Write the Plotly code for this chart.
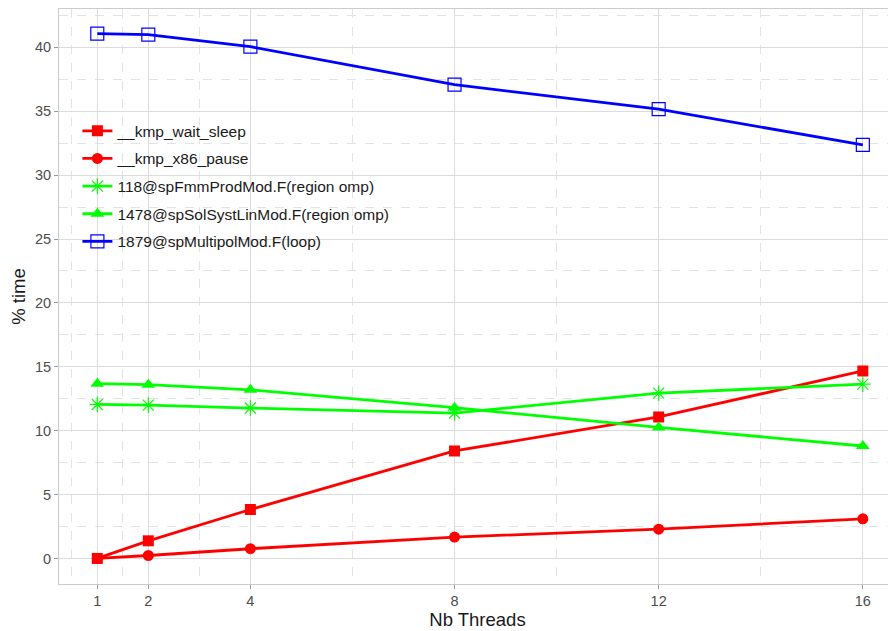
import plotly.graph_objects as go

threads = [1, 2, 4, 8, 12, 16]
kmp_wait_sleep = [0.0, 1.38, 3.83, 8.41, 11.07, 14.67]
kmp_x86_pause = [0.0, 0.23, 0.76, 1.67, 2.29, 3.1]
fmm_prod = [12.05, 12.0, 11.77, 11.38, 12.94, 13.64]
sol_syst = [13.68, 13.6, 13.2, 11.8, 10.25, 8.8]
multipol = [41.07, 41.0, 40.05, 37.08, 35.16, 32.37]
x_ticks = [1, 2, 4, 8, 12, 16]
x_minor = [0.5, 1.5, 3, 6, 10, 14, 16.5]
y_ticks = [0, 5, 10, 15, 20, 25, 30, 35, 40]
y_minor = [-2.5, 2.5, 7.5, 12.5, 17.5, 22.5, 27.5, 32.5, 37.5, 42.5]

series = [
    ("__kmp_wait_sleep", kmp_wait_sleep, "#ff0000", "square", 11, 0),
    ("__kmp_x86_pause", kmp_x86_pause, "#ff0000", "circle", 11, 0),
    ("118@spFmmProdMod.F(region omp)", fmm_prod, "#00ff00", "asterisk-open", 13, 1.2),
    ("1478@spSolSystLinMod.F(region omp)", sol_syst, "#00ff00", "triangle-up", 12, 0),
    ("1879@spMultipolMod.F(loop)", multipol, "#0000ff", "square-open", 13, 1.2),
]

fig = go.Figure()
for i, (name, vals, col, sym, size, lw) in enumerate(series):
    fig.add_trace(go.Scatter(
        x=threads, y=vals, name=name, mode="lines+markers",
        line=dict(color=col, width=2.8),
        marker=dict(symbol=sym, size=size, color=col, line=dict(color=col, width=lw)),
        legendgroup=f"g{i}",
    ))

# page body adds an 8px offset; figure placed at (8, 8)
fig.update_layout(
    width=888, height=623,
    margin=dict(l=51, r=0, t=1, b=47, autoexpand=False),
    paper_bgcolor="white", plot_bgcolor="white",
    font=dict(family="Liberation Sans, Arial, sans-serif", color="#4d4d4d", size=14),
    legend=dict(x=0.022, y=0.817, xanchor="left", yanchor="top",
                bgcolor="rgba(255,255,255,0)", font=dict(size=15.5, color="#1a1a1a"),
                tracegroupgap=4.5, itemwidth=30),
    showlegend=True,
)
fig.update_xaxes(
    range=[0.25, 16.65], tickmode="array", tickvals=x_ticks,
    ticktext=[str(t) for t in x_ticks], automargin=False,
    tickfont=dict(size=14.5, color="#4d4d4d"),
    showgrid=True, gridcolor="#dcdcdc", gridwidth=1,
    minor=dict(tickmode="array", tickvals=x_minor, showgrid=True,
               gridcolor="#e3e3e3", griddash="dash", gridwidth=1),
    ticks="outside", ticklen=4, tickcolor="#999999",
    showline=True, linecolor="#cccccc", mirror=True, zeroline=False,
    title=dict(text="Nb Threads", font=dict(size=18.5, color="#1a1a1a"), standoff=2),
)
fig.update_yaxes(
    range=[-2.0, 43.0], tickmode="array", tickvals=y_ticks, automargin=False,
    tickfont=dict(size=14.5, color="#4d4d4d"),
    showgrid=True, gridcolor="#dcdcdc", gridwidth=1,
    minor=dict(tickmode="array", tickvals=y_minor, showgrid=True,
               gridcolor="#e3e3e3", griddash="dash", gridwidth=1),
    ticks="outside", ticklen=4, tickcolor="#999999",
    showline=True, linecolor="#cccccc", zeroline=False,
    title=dict(text="% time", font=dict(size=18.5, color="#1a1a1a"), standoff=4),
)
fig.write_html("out.html")
